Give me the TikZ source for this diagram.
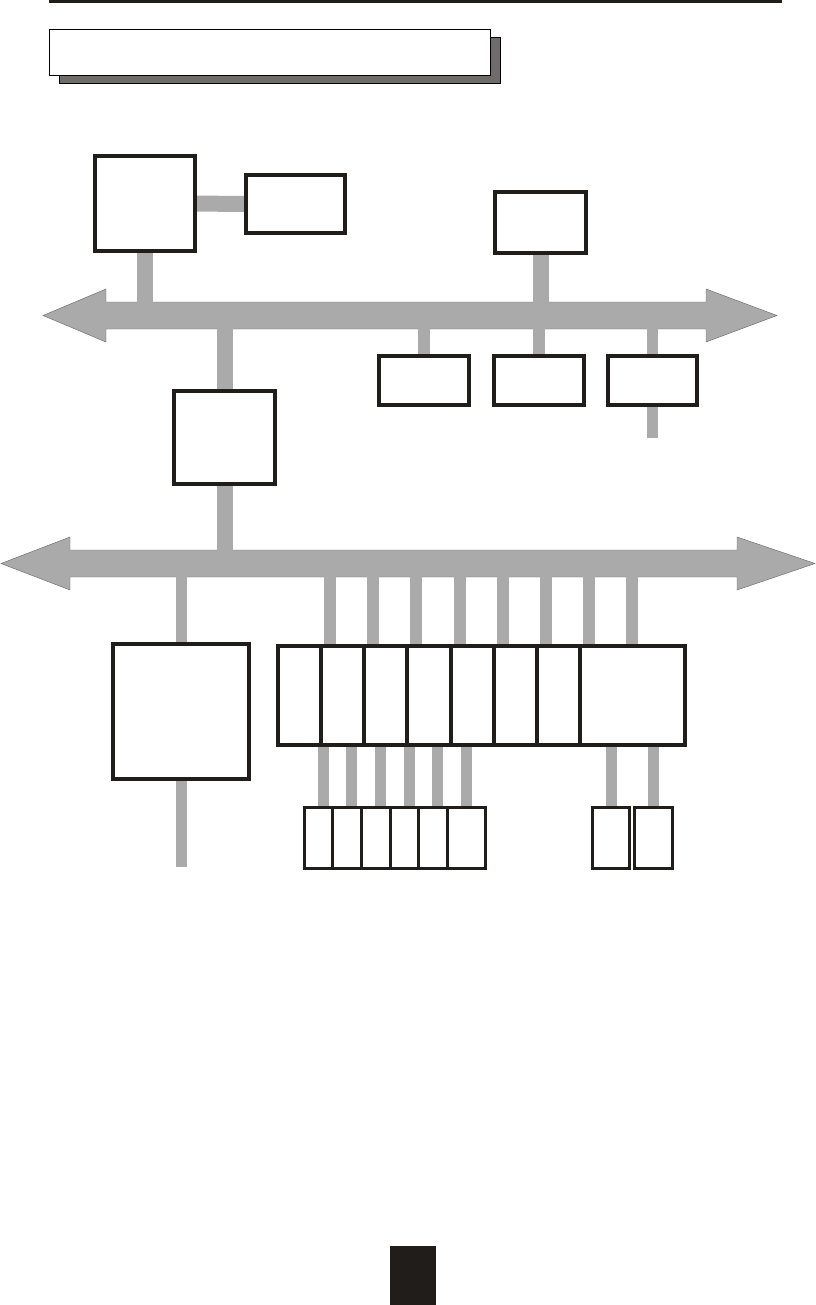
\documentclass[tikz,border=0pt]{standalone}
\usepackage{xcolor}
\definecolor{busgray}{HTML}{AAAAAA}
\definecolor{busedge}{HTML}{6E6E6E}
\definecolor{boxline}{HTML}{211D1A}
\definecolor{shadowgray}{HTML}{6F6B6B}
\usetikzlibrary{positioning,backgrounds,shadows}

\begin{document}
\begin{tikzpicture}[
      x=0.03cm, y=-0.03cm,
      blk/.style={rectangle, draw=boxline, line width=0.12cm, fill=white, inner sep=0pt},
      cell/.style={blk, outer sep=0pt, minimum height=2.97cm},
      slot/.style={rectangle, draw=boxline, line width=0.09cm, fill=white, inner sep=0pt,
                   outer sep=0pt, minimum height=1.83cm},
      bus/.style={fill=busgray, draw=busedge, line width=0.4pt},
      wide/.style={draw=busgray, line width=0.48cm},
      tap/.style={draw=busgray, line width=0.35cm},
      thin/.style={draw=busgray, line width=0.33cm},
    ]
    \useasboundingbox (0,0) rectangle (816,1305);

    % header
    \fill[boxline] (49,0) rectangle (782,2.5);
    \node[rectangle, draw=black, line width=0.6pt, fill=white, inner sep=0pt,
          minimum width=13.23cm, minimum height=1.38cm,
          copy shadow={shadow xshift=0.3cm, shadow yshift=-0.225cm, fill=shadowgray,
                       draw=black, line width=0.6pt}] (title) at (270,52.5) {};

    % upper level
    \node[blk, minimum width=3cm, minimum height=2.85cm] (host) at (145,203.5) {};
    \node[blk, minimum width=2.97cm, minimum height=1.74cm] (term) at (295.5,204) {};
    \node[blk, minimum width=2.73cm, minimum height=1.83cm] (serv) at (540.5,222.5) {};
    \node[blk, minimum width=2.7cm, minimum height=1.47cm] (st1) at (424,380.5) {};
    \node[blk, minimum width=2.7cm, minimum height=1.47cm] (st2) at (539,380.5) {};
    \node[blk, minimum width=2.67cm, minimum height=1.47cm] (st3) at (652.5,380.5) {};
    \node[blk, minimum width=3.03cm, minimum height=2.79cm] (gate) at (224.5,437.5) {};

    % lower level
    \node[blk, minimum width=4.08cm, minimum height=4.05cm] (ctrl) at (181,711.5) {};
    \node[cell, minimum width=1.29cm] (c1) at (299.5,695.5) {};
    \node[cell, minimum width=1.29cm, right=0pt of c1] (c2) {};
    \node[cell, minimum width=1.29cm, right=0pt of c2] (c3) {};
    \node[cell, minimum width=1.32cm, right=0pt of c3] (c4) {};
    \node[cell, minimum width=1.29cm, right=0pt of c4] (c5) {};
    \node[cell, minimum width=1.29cm, right=0pt of c5] (c6) {};
    \node[cell, minimum width=1.29cm, right=0pt of c6] (c7) {};
    \node[cell, minimum width=3.15cm, right=0pt of c7] (c8) {};

    \node[slot, minimum width=0.825cm] (s1) at (318.25,838) {};
    \node[slot, minimum width=0.87cm, right=0pt of s1] (s2) {};
    \node[slot, minimum width=0.87cm, right=0pt of s2] (s3) {};
    \node[slot, minimum width=0.84cm, right=0pt of s3] (s4) {};
    \node[slot, minimum width=0.87cm, right=0pt of s4] (s5) {};
    \node[slot, minimum width=1.155cm, right=0pt of s5] (s6) {};
    \node[slot, minimum width=1.11cm] (p1) at (611,838) {};
    \node[slot, minimum width=1.14cm] (p2) at (653.5,838) {};

    \node[rectangle, fill=boxline, inner sep=0pt, minimum width=1.38cm,
          minimum height=1.77cm] (mark) at (413,1275.5) {};

    \coordinate (bus1top) at (0,303);
    \coordinate (bus1bot) at (0,328);
    \coordinate (bus2top) at (0,551);
    \coordinate (bus2bot) at (0,576);
    \coordinate (st3end) at (654,438);
    \coordinate (ctrlend) at (181,867);

    \begin{scope}[on background layer]
      % buses
      \draw[bus] (43,315.5) -- (106,289) -- (106,302) -- (706,302) -- (706,289) -- (777,315.5)
                 -- (706,342) -- (706,329) -- (106,329) -- (106,342) -- cycle;
      \draw[bus] (1,563.5) -- (70,537) -- (70,550) -- (737,550) -- (737,537) -- (815,563.5)
                 -- (737,590) -- (737,577) -- (70,577) -- (70,590) -- cycle;

      \draw[wide] (host) -- (term);
      \draw[wide] (host.south) -- (host.south |- bus1top);
      \draw[wide] (serv.south) -- (serv.south |- bus1top);
      \draw[tap] (st1.north |- bus1bot) -- (st1.north);
      \draw[tap] (st2.north |- bus1bot) -- (st2.north);
      \draw[tap] (st3.north |- bus1bot) -- (st3.north);
      \draw[tap] (st3.south) -- (st3.south |- st3end);
      \draw[wide] (gate.north |- bus1bot) -- (gate.north);
      \draw[wide] (gate.south) -- (gate.south |- bus2top);

      \draw[thin] (ctrl.north |- bus2bot) -- (ctrl.north);
      \draw[thin] (ctrl.south) -- (ctrl.south |- ctrlend);
      \foreach \c in {c2,c3,c4,c5,c6,c7,c8} {
        \coordinate (t) at ([xshift=0.27cm]\c.north west);
        \draw[tap] (t |- bus2bot) -- (t);
      }
      \coordinate (t8) at ([xshift=1.56cm]c8.north west);
      \draw[tap] (t8 |- bus2bot) -- (t8);

      \foreach \s in {s1,s2,s3,s4,s5,s6} {
        \coordinate (u) at ([xshift=0.57cm]\s.north west);
        \draw[thin] (u |- c1.south) -- (u);
      }
      \draw[thin] (p1.north |- c8.south) -- (p1.north);
      \draw[thin] (p2.north |- c8.south) -- (p2.north);
    \end{scope}
  \end{tikzpicture}
\end{document}
